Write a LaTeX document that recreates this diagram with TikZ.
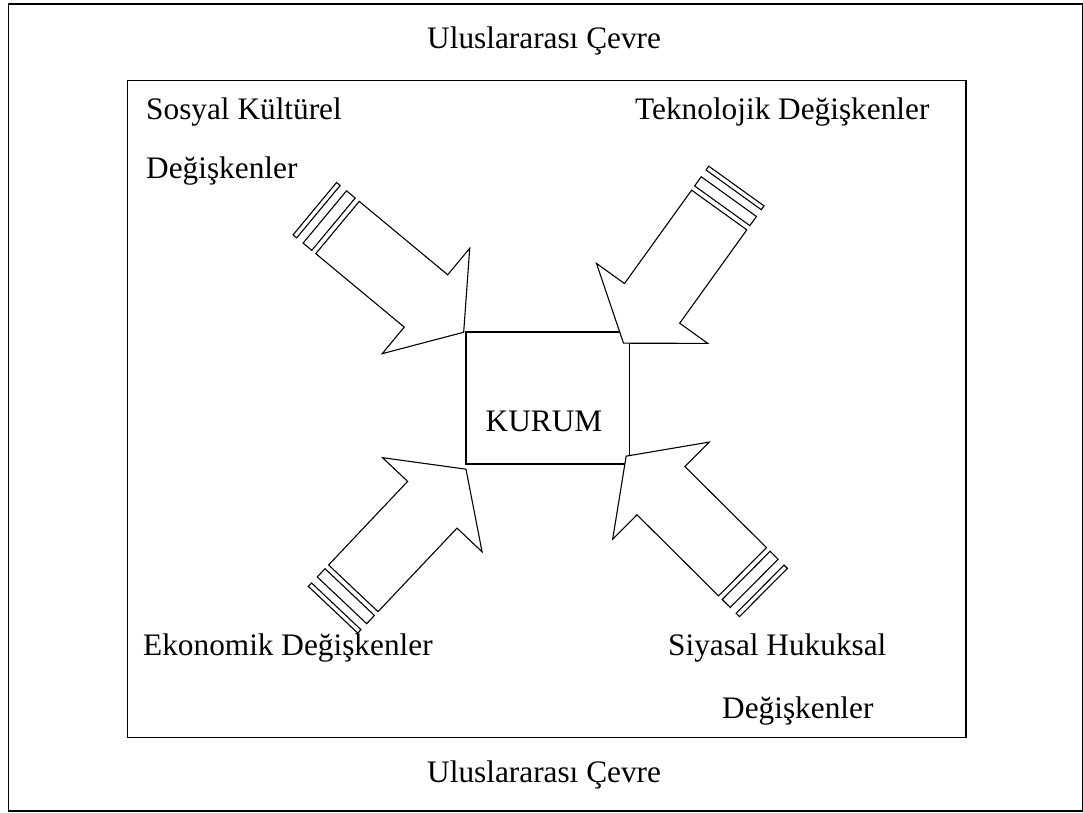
\documentclass[tikz,border=0pt]{standalone}
\usepackage{fontspec}
\setmainfont{Liberation Serif}
\tikzset{
  frame/.style={draw=black, line width=1.5pt},
  stripearrow/.style={draw=black, fill=white, line width=1.1pt, line join=miter},
  lbl/.style={anchor=base west, inner sep=0pt, font=\fontsize{31.3}{37}\selectfont},
}
\newcommand{\stripedarrow}[3]{%
  \begin{scope}[shift={(#1,#2)}, rotate=#3]
    \draw[stripearrow] (0,-34) -- (115,-34) -- (115,-68.5) -- (164,0) -- (115,68.5) -- (115,34) -- (0,34) -- cycle;
    \draw[stripearrow] (-16.5,-34) rectangle (-5.2,34);
    \draw[stripearrow] (-29.5,-34) rectangle (-24.8,34);
  \end{scope}}
\begin{document}
\begin{tikzpicture}[x=1pt,y=-1pt]
  \useasboundingbox (0,0) rectangle (1083,812);
  % frames
  \node[frame, anchor=north west, minimum width=1074pt, minimum height=807pt, inner sep=0pt] (outer) at (7.5,3) {};
  \node[frame, anchor=north west, minimum width=838.5pt, minimum height=657pt, inner sep=0pt] (inner) at (126.5,79.5) {};
  \node[frame, minimum width=163.3pt, minimum height=132pt, inner sep=0pt] (kurum) at (547.7,398) {};
  \node[lbl, anchor=base] (kurumtext) at (544,431.7) {KURUM};
  % arrows
  \stripedarrow{337.5}{227.5}{-39.7}
  \stripedarrow{719.2}{210}{-125.7}
  \stripedarrow{353.3}{588.3}{46.6}
  \stripedarrow{742.5}{571.7}{135.2}
  % labels
  \node[lbl] (toplbl) at (427,48) {Uluslararası Çevre};
  \node[lbl] (sosyal) at (146,119.5) {Sosyal Kültürel};
  \node[lbl] (sosyal2) at (146,178) {Değişkenler};
  \node[lbl] (tekno) at (635,119.5) {Teknolojik Değişkenler};
  \node[lbl] (ekonomik) at (143,655) {Ekonomik Değişkenler};
  \node[lbl] (siyasal) at (668,655) {Siyasal Hukuksal};
  \node[lbl] (siyasal2) at (722,718) {Değişkenler};
  \node[lbl] (botlbl) at (427,782) {Uluslararası Çevre};
\end{tikzpicture}
\end{document}
